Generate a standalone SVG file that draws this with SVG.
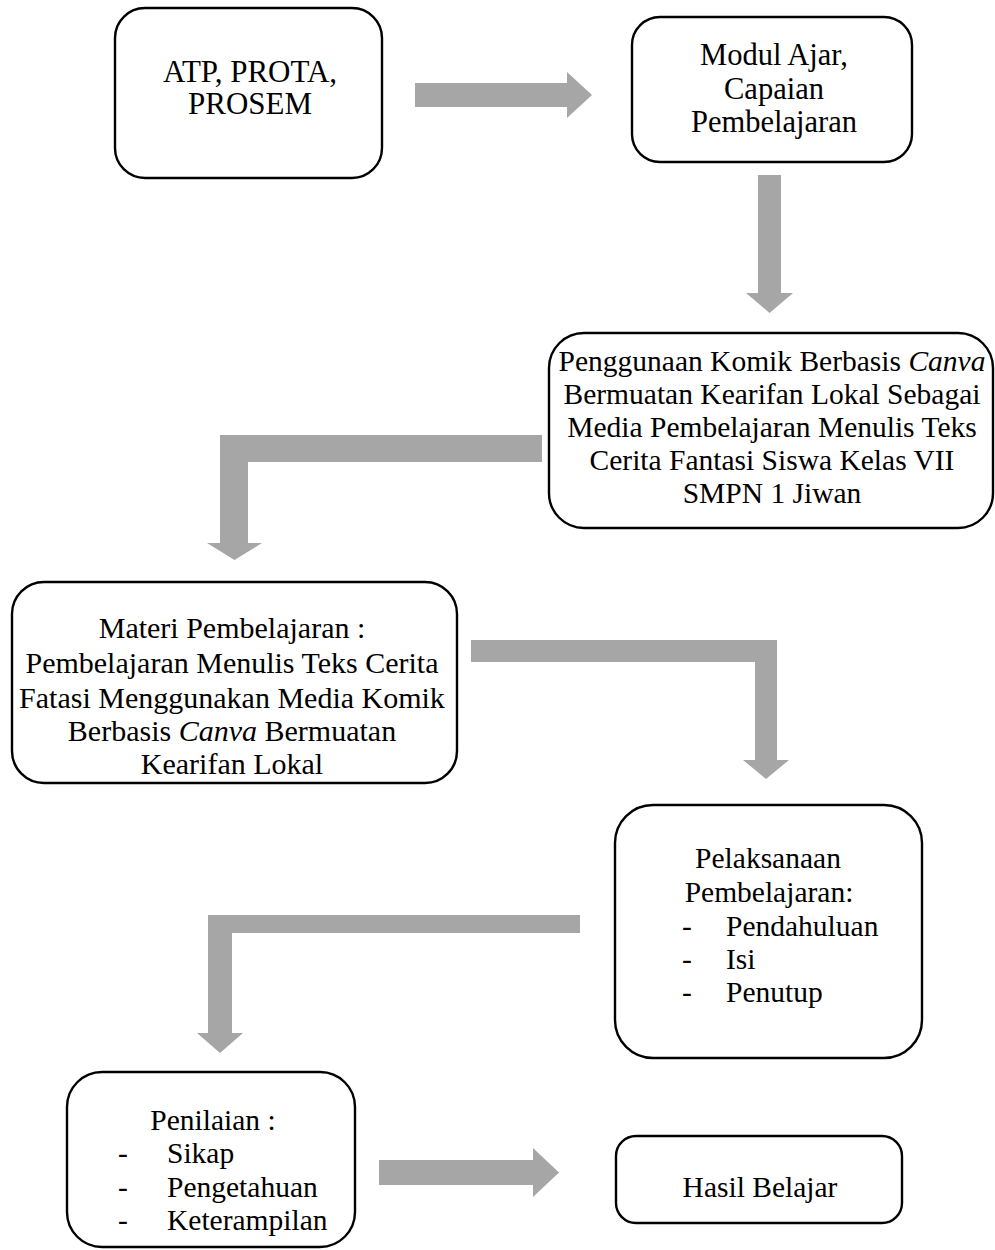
<svg xmlns="http://www.w3.org/2000/svg" width="995" height="1250" viewBox="0 0 995 1250">
<style>
.box{fill:#fff;stroke:#000;stroke-width:2.4}
.arr{fill:#a6a6a6;stroke:none}
text{font-family:"Liberation Serif","Times New Roman",serif;font-size:29.5px;fill:#000}
.c{text-anchor:middle}
.i{font-style:italic}
</style>
<rect width="995" height="1250" fill="#fff"/>
<g id="connectors">
<polygon class="arr" points="415,83 567,83 567,72 592,95 567,118 567,107 415,107"/>
<polygon class="arr" points="758,175 781,175 781,293 793,293 769.5,313 746,293 758,293"/>
<polygon class="arr" points="542,435 220,435 220,543 207,543 234.5,560 262,543 248,543 248,462 542,462"/>
<polygon class="arr" points="471,640 777,640 777,760 789,760 766,779 743,760 755,760 755,662 471,662"/>
<polygon class="arr" points="580,915 208,915 208,1033 197,1033 220,1053 243,1033 232,1033 232,933 580,933"/>
<polygon class="arr" points="379,1160 533,1160 533,1148 559,1172.5 533,1197 533,1185 379,1185"/>
</g>
<g id="atp">
<rect class="box" x="115" y="8" width="267" height="170" rx="30"/>
<text class="c" x="250" y="82" style="font-size:31px">ATP, PROTA,</text>
<text class="c" x="250" y="114" style="font-size:31px">PROSEM</text>
</g>
<g id="modul">
<rect class="box" x="632" y="17" width="280" height="145" rx="28"/>
<text class="c" x="774" y="65" style="font-size:30.5px">Modul Ajar,</text>
<text class="c" x="774" y="99" style="font-size:30.5px">Capaian</text>
<text class="c" x="774" y="132" style="font-size:30.5px">Pembelajaran</text>
</g>
<g id="penggunaan">
<rect class="box" x="549" y="333" width="444" height="195" rx="35"/>
<text class="c" x="772" y="371">Penggunaan Komik Berbasis <tspan class="i">Canva</tspan></text>
<text class="c" x="772" y="404">Bermuatan Kearifan Lokal Sebagai</text>
<text class="c" x="772" y="437">Media Pembelajaran Menulis Teks</text>
<text class="c" x="772" y="470">Cerita Fantasi Siswa Kelas VII</text>
<text class="c" x="772" y="503">SMPN 1 Jiwan</text>
</g>
<g id="materi">
<rect class="box" x="12" y="582" width="445" height="201" rx="32"/>
<text class="c" x="232" y="638" style="font-size:30px">Materi Pembelajaran :</text>
<text class="c" x="232" y="673" style="font-size:30px">Pembelajaran Menulis Teks Cerita</text>
<text class="c" x="232" y="708" style="font-size:30px">Fatasi Menggunakan Media Komik</text>
<text class="c" x="232" y="741" style="font-size:30px">Berbasis <tspan class="i">Canva</tspan> Bermuatan</text>
<text class="c" x="232" y="774" style="font-size:30px">Kearifan Lokal</text>
</g>
<g id="pelaksanaan">
<rect class="box" x="615" y="805" width="307" height="253" rx="38"/>
<text class="c" x="768" y="868">Pelaksanaan</text>
<text class="c" x="769" y="902">Pembelajaran:</text>
<text x="682" y="936">-</text><text x="726" y="936">Pendahuluan</text>
<text x="682" y="969">-</text><text x="726" y="969">Isi</text>
<text x="682" y="1002">-</text><text x="726" y="1002">Penutup</text>
</g>
<g id="penilaian">
<rect class="box" x="67" y="1072" width="288" height="175" rx="35"/>
<text class="c" x="213" y="1130">Penilaian :</text>
<text x="118" y="1163">-</text><text x="167" y="1163">Sikap</text>
<text x="118" y="1197">-</text><text x="167" y="1197">Pengetahuan</text>
<text x="118" y="1230">-</text><text x="167" y="1230">Keterampilan</text>
</g>
<g id="hasil">
<rect class="box" x="616" y="1136" width="286" height="87" rx="20"/>
<text class="c" x="760" y="1197">Hasil Belajar</text>
</g>
</svg>
